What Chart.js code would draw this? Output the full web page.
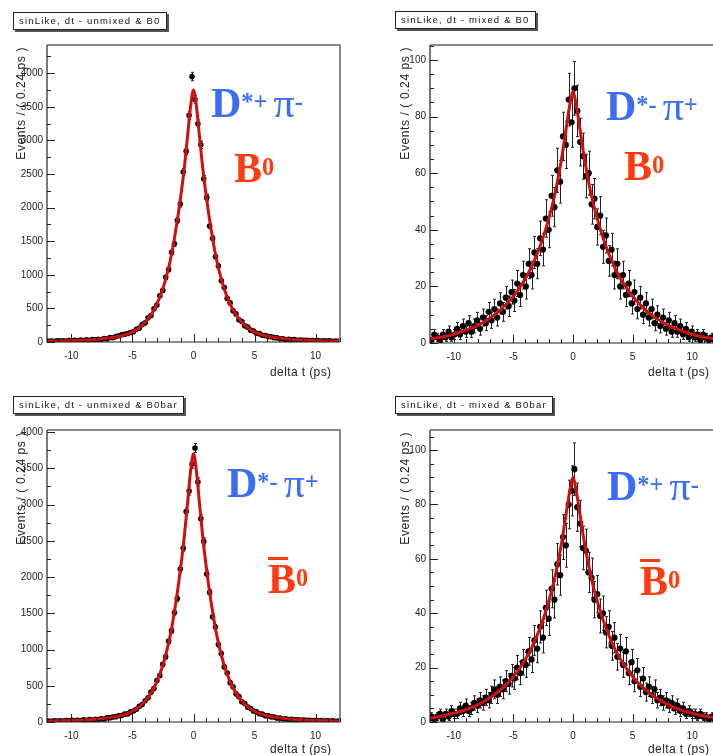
<!DOCTYPE html>
<html><head><meta charset="utf-8">
<script src="https://cdn.jsdelivr.net/npm/chart.js@4.4.1/dist/chart.umd.min.js"></script>
<style>
html,body{margin:0;padding:0;background:#fff;width:713px;height:755px;overflow:hidden;position:relative;font-family:"Liberation Sans",Arial,sans-serif;}
canvas{position:absolute;}
.tbox{position:absolute;background:#fff;border:1px solid #222;box-shadow:2px 2px 0 #555;font-size:9.5px;line-height:16px;height:16px;padding:0 5px;color:#111;white-space:nowrap;letter-spacing:1.2px;}
.ytitle{position:absolute;font-size:12px;color:#222;writing-mode:vertical-rl;transform:rotate(180deg);white-space:nowrap;letter-spacing:0.6px;}
.xtitle{position:absolute;font-size:12px;color:#222;white-space:nowrap;letter-spacing:0.4px;}
.ann{position:absolute;font-family:"Liberation Serif","Times New Roman",serif;font-weight:bold;line-height:1;white-space:nowrap;}
.blue{color:#3a6cf4;font-size:42px;}
.red{color:#ff3a10;font-size:42px;}
.ann sup{font-size:0.58em;vertical-align:0.3em;line-height:0;}
.pi{font-weight:normal;margin-left:6px;}
.bar{position:relative;display:inline-block;}
.bar::before{content:"";position:absolute;left:0;top:-1px;width:20px;height:3px;background:currentColor;}
</style>
</head>
<body>
<canvas id="c1"></canvas>
<canvas id="c2"></canvas>
<canvas id="c3"></canvas>
<canvas id="c4"></canvas>

<div class="tbox" style="left:13px;top:12px;">sinLike, dt - unmixed &amp; B0</div>
<div class="tbox" style="left:395px;top:11px;">sinLike, dt - mixed &amp; B0</div>
<div class="tbox" style="left:13px;top:396px;">sinLike, dt - unmixed &amp; B0bar</div>
<div class="tbox" style="left:395px;top:396px;">sinLike, dt - mixed &amp; B0bar</div>

<div class="ytitle" style="left:14px;top:47px;">Events / ( 0.24 ps )</div>
<div class="ytitle" style="left:398px;top:47px;">Events / ( 0.24 ps )</div>
<div class="ytitle" style="left:14px;top:432px;">Events / ( 0.24 ps )</div>
<div class="ytitle" style="left:398px;top:432px;">Events / ( 0.24 ps )</div>

<div class="xtitle" style="left:270px;top:365px;">delta t (ps)</div>
<div class="xtitle" style="left:648px;top:365px;">delta t (ps)</div>
<div class="xtitle" style="left:270px;top:742px;">delta t (ps)</div>
<div class="xtitle" style="left:648px;top:742px;">delta t (ps)</div>

<div class="ann blue" style="left:211px;top:82px;">D<sup>*+</sup><span class="pi">π</span><sup>-</sup></div>
<div class="ann red" style="left:234px;top:147px;">B<sup>0</sup></div>
<div class="ann blue" style="left:606px;top:85px;">D<sup>*-</sup><span class="pi">π</span><sup>+</sup></div>
<div class="ann red" style="left:624px;top:145px;">B<sup>0</sup></div>
<div class="ann blue" style="left:227px;top:462px;">D<sup>*-</sup><span class="pi">π</span><sup>+</sup></div>
<div class="ann red" style="left:268px;top:558px;"><span class="bar">B</span><sup>0</sup></div>
<div class="ann blue" style="left:607px;top:465px;">D<sup>*+</sup><span class="pi">π</span><sup>-</sup></div>
<div class="ann red" style="left:640px;top:560px;"><span class="bar">B</span><sup>0</sup></div>

<script>
// ---- axis / bin definitions ----
const binStart = -12;
const binWidth = 0.24;
const xTickValues = [-10, -5, 0, 5, 10];
const yTicksUnmixed = [0, 500, 1000, 1500, 2000, 2500, 3000, 3500, 4000];
const yTicksMixed = [0, 20, 40, 60, 80, 100];

// ---- measured histogram counts (100 bins of 0.24 ps, from -12 to 12 ps) ----
const countsUnmixedB0 = [10,15,11,17,13,19,14,21,17,25,19,28,23,33,27,36,31,42,37,51,48,66,64,82,94,108,116,127,142,152,190,206,259,285,362,394,493,551,688,768,962,1078,1335,1462,1810,2052,2531,2840,3372,3950,
3610,3248,2935,2430,2148,1725,1541,1272,1132,911,812,649,582,466,418,331,304,241,221,176,163,130,124,100,97,80,79,65,63,49,48,38,40,31,35,27,30,24,27,20,23,18,20,15,18,13,16,12,14,11];
const countsMixedB0 = [1,3,2,1,3,2,4,2,3,5,3,6,4,7,4,6,8,5,9,7,11,8,12,9,14,11,16,13,18,15,21,17,24,20,28,24,32,28,37,33,44,40,52,48,61,57,73,70,86,78,
90,82,71,66,59,60,49,51,41,45,34,38,29,33,24,28,20,24,17,21,14,18,12,16,10,14,9,12,7,10,6,9,5,8,4,7,4,6,3,5,2,4,2,3,1,3,2,1,2,1];
const countsUnmixedB0bar = [14,11,15,12,17,14,19,16,22,18,25,21,29,25,33,28,37,34,44,40,57,58,70,74,86,90,108,112,139,152,175,215,240,294,335,412,463,571,641,797,900,1115,1262,1511,1702,2110,2398,2902,3185,3560,
3780,3310,2805,2490,2041,1785,1452,1310,1068,945,760,675,543,485,388,350,280,255,205,187,151,139,114,108,87,87,71,70,56,55,41,43,34,36,29,32,26,28,22,24,19,21,16,19,14,17,12,15,11,13];
const countsMixedB0bar = [2,1,2,3,1,3,2,4,3,3,5,4,6,4,5,7,6,8,7,9,8,10,12,10,13,12,15,14,17,16,20,18,22,21,26,23,30,27,35,31,42,38,49,45,58,54,68,65,80,85,
93,79,73,64,63,55,53,45,47,39,40,33,35,28,31,24,27,21,26,18,22,15,19,13,16,11,13,10,12,8,9,7,8,6,7,5,6,4,5,3,4,3,3,2,3,2,2,1,2,1];

// ---- fit curves ----
const fitT = [-12,-11,-10,-9,-8,-7,-6,-5.5,-5,-4.5,-4,-3.5,-3,-2.5,-2,-1.75,-1.5,-1.25,-1,-0.75,-0.5,-0.25,0,0.25,0.5,0.75,1,1.25,1.5,1.75,2,2.5,3,3.5,4,4.5,5,5.5,6,7,8,9,10,11,12];
const fitUnmixedB0 = [12,16,21,28,38,58,88,113,150,205,285,400,565,800,1135,1350,1610,1900,2230,2600,3040,3490,3750,3490,3040,2600,2230,1900,1610,1350,1135,800,565,400,285,205,150,113,88,58,38,28,21,16,12];
const fitMixedB0 = [1.4,2.1,3.1,4.5,6.2,8.7,12,14.1,16.5,19.4,22.7,26.7,31.6,37.4,44.5,48.5,53,58.3,64.1,70.8,77.9,84.6,89,84.6,77.9,70.8,64.1,58.3,53,48.5,44.5,37.4,31.6,26.7,22.7,19.4,16.5,14.1,12,8.7,6.2,4.5,3.1,2.1,1.4];
const fitUnmixedB0bar = [12,16,21,28,38,57,87,112,148,202,281,395,558,790,1120,1332,1589,1875,2200,2566,3000,3444,3700,3444,3000,2566,2200,1875,1589,1332,1120,790,558,395,281,202,148,112,87,57,38,28,21,16,12];
const fitMixedB0bar = [1.4,2.2,3.2,4.5,6.3,8.8,12.2,14.2,16.7,19.6,23,27,32,37.8,45,49,53.6,59,64.8,71.6,78.8,85.5,90,85.5,78.8,71.6,64.8,59,53.6,49,45,37.8,32,27,23,19.6,16.7,14.2,12.2,8.8,6.3,4.5,3.2,2.2,1.4];

// ---- panel layout ----
const panels = [
  {id:'c1', left:0,   top:0,   W:356, H:380, pt:45, pr:16, yw:47, xh:38, ymax:4420,  yTicks:yTicksUnmixed, yMinor:250, r:2.8, counts:countsUnmixedB0,    fit:fitUnmixedB0},
  {id:'c2', left:383, top:0,   W:349, H:380, pt:45, pr:16, yw:47, xh:37, ymax:105.3, yTicks:yTicksMixed,   yMinor:5,   r:3.1, counts:countsMixedB0,      fit:fitMixedB0},
  {id:'c3', left:0,   top:385, W:356, H:370, pt:45, pr:16, yw:47, xh:33, ymax:4028,  yTicks:yTicksUnmixed, yMinor:250, r:2.8, counts:countsUnmixedB0bar, fit:fitUnmixedB0bar},
  {id:'c4', left:383, top:385, W:349, H:370, pt:45, pr:16, yw:47, xh:33, ymax:107.4, yTicks:yTicksMixed,   yMinor:5,   r:3.1, counts:countsMixedB0bar,   fit:fitMixedB0bar}
];

const rootStyle = {
  id: 'rootStyle',
  beforeDatasetsDraw(chart, args, opts) {
    const {ctx, chartArea: a, scales: {x, y}} = chart;
    const pts = chart.data.datasets[1].data;
    ctx.save();
    ctx.beginPath(); ctx.rect(a.left, a.top, a.right - a.left, a.bottom - a.top); ctx.clip();
    ctx.strokeStyle = '#222'; ctx.lineWidth = 1;
    pts.forEach(p => {
      const e = Math.sqrt(Math.max(p.y, 1));
      const px = Math.round(x.getPixelForValue(p.x)) + 0.5;
      const y1 = y.getPixelForValue(Math.max(p.y - e, 0));
      const y2 = y.getPixelForValue(p.y + e);
      ctx.beginPath();
      ctx.moveTo(px, y1); ctx.lineTo(px, y2);
      ctx.moveTo(px - 1.5, y2); ctx.lineTo(px + 1.5, y2);
      ctx.moveTo(px - 1.5, y1); ctx.lineTo(px + 1.5, y1);
      ctx.stroke();
    });
    ctx.restore();
  },
  afterDatasetsDraw(chart, args, opts) {
    const {ctx, chartArea: a, scales: {x, y}} = chart;
    ctx.save();
    ctx.strokeStyle = '#8a8a8a'; ctx.lineWidth = 2;
    ctx.beginPath();
    ctx.moveTo(a.left, a.top); ctx.lineTo(a.right, a.top); ctx.lineTo(a.right, a.bottom);
    ctx.stroke();
    ctx.strokeStyle = '#222'; ctx.lineWidth = 1.2;
    ctx.beginPath();
    ctx.moveTo(a.left, a.top); ctx.lineTo(a.left, a.bottom); ctx.lineTo(a.right, a.bottom);
    ctx.stroke();
    ctx.lineWidth = 1;
    ctx.beginPath();
    for (let v = -12; v <= 12; v += 1) {
      const px = Math.round(x.getPixelForValue(v)) + 0.5;
      const len = (v % 5 === 0) ? 8 : 4;
      ctx.moveTo(px, a.bottom); ctx.lineTo(px, a.bottom - len);
    }
    for (let v = 0; v <= opts.ymax; v += opts.yMinor) {
      const py = Math.round(y.getPixelForValue(v)) + 0.5;
      const len = opts.yTicks.includes(v) ? 8 : 4;
      ctx.moveTo(a.left, py); ctx.lineTo(a.left + len, py);
    }
    ctx.stroke();
    ctx.restore();
  }
};

panels.forEach(p => {
  const cv = document.getElementById(p.id);
  cv.width = p.W; cv.height = p.H;
  cv.style.left = p.left + 'px'; cv.style.top = p.top + 'px';
  cv.style.width = p.W + 'px'; cv.style.height = p.H + 'px';
  const centers = p.counts.map((c, i) => +(binStart + binWidth * (i + 0.5)).toFixed(2));
  const dataPts = p.counts.map((c, i) => ({x: centers[i], y: c}));
  const fitPts = p.fit.map((v, i) => ({x: fitT[i], y: v}));
  new Chart(cv, {
    type: 'line',
    data: {
      datasets: [
        {data: fitPts, borderColor: '#d01010', borderWidth: 3, pointRadius: 0, fill: false, cubicInterpolationMode: 'monotone', order: 0},
        {data: dataPts, showLine: false, pointRadius: p.r, pointBackgroundColor: '#000', pointBorderWidth: 0, borderColor: '#000', order: 1}
      ]
    },
    options: {
      responsive: false,
      animation: false,
      devicePixelRatio: 1,
      layout: {padding: {top: p.pt, right: p.pr, left: 0, bottom: 0}},
      plugins: {legend: {display: false}, tooltip: {enabled: false}, rootStyle: {ymax: p.ymax, yMinor: p.yMinor, yTicks: p.yTicks}},
      scales: {
        x: {
          type: 'linear', min: -12, max: 12,
          afterBuildTicks: s => { s.ticks = xTickValues.map(v => ({value: v})); },
          afterFit: s => { s.height = p.xh; },
          grid: {display: false, drawTicks: false},
          border: {display: false},
          ticks: {padding: 8, color: '#222', font: {family: 'Liberation Sans', size: 10}, maxRotation: 0, autoSkip: false, callback: v => String(v)}
        },
        y: {
          type: 'linear', min: 0, max: p.ymax,
          afterBuildTicks: s => { s.ticks = p.yTicks.map(v => ({value: v})); },
          afterFit: s => { s.width = p.yw; },
          grid: {display: false, drawTicks: false},
          border: {display: false},
          ticks: {padding: 4, color: '#222', font: {family: 'Liberation Sans', size: 10}, autoSkip: false, callback: v => String(v)}
        }
      }
    },
    plugins: [rootStyle]
  });
});
</script>
</body></html>
